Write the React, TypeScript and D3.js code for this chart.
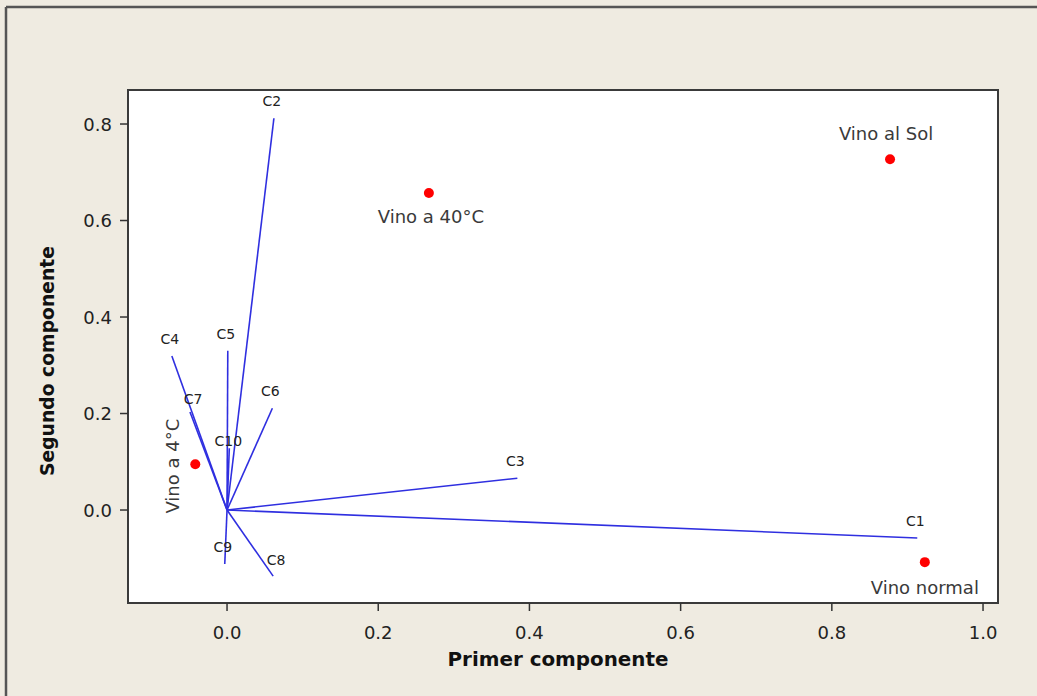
import React from "react";
import * as d3 from "d3";

// ---- data ----
const vectorNames = ["C1", "C2", "C3", "C4", "C5", "C6", "C7", "C8", "C9", "C10"];
const vectorPC1 = [0.913, 0.062, 0.384, -0.073, 0.001, 0.06, -0.049, 0.061, -0.003, 0.003];
const vectorPC2 = [-0.058, 0.812, 0.066, 0.319, 0.33, 0.211, 0.203, -0.137, -0.112, 0.128];

const sampleNames = ["Vino al Sol", "Vino a 40°C", "Vino a 4°C", "Vino normal"];
const samplePC1 = [0.877, 0.267, -0.042, 0.923];
const samplePC2 = [0.727, 0.657, 0.095, -0.108];

const xTicks = [0.0, 0.2, 0.4, 0.6, 0.8, 1.0];
const yTicks = [0.0, 0.2, 0.4, 0.6, 0.8];
const xTitle = "Primer componente";
const yTitle = "Segundo componente";

// ---- styling / layout ----
const W = 1037;
const H = 696;
const plot = { left: 128, right: 998, top: 90, bottom: 603 };
const vecLabelOffset: Record<string, [number, number]> = {
  C7: [3, -13],
  C8: [3, -16],
  C10: [-1, -7],
};
const sampleLabelStyle: Record<string, { dx: number; dy: number; rotate?: boolean }> = {
  "Vino al Sol": { dx: -4, dy: -26 },
  "Vino a 40°C": { dx: 2, dy: 23 },
  "Vino a 4°C": { dx: -23, dy: 2, rotate: true },
  "Vino normal": { dx: 0, dy: 25 },
};

export default function App() {
  const x = d3.scaleLinear().domain([-0.131, 1.0198]).range([plot.left, plot.right]);
  const y = d3.scaleLinear().domain([-0.1927, 0.8705]).range([plot.bottom, plot.top]);
  const fmt = d3.format(".1f");
  const line = d3.line<[number, number]>().x((d) => x(d[0])).y((d) => y(d[1]));
  const font = "'DejaVu Sans', Verdana, sans-serif";
  const blue = "#2f2fe0";

  return (
    <svg
      width={W}
      height={H}
      style={{ position: "absolute", left: 0, top: 0 }}
      xmlns="http://www.w3.org/2000/svg"
    >
      <rect x={0} y={0} width={W} height={H} fill="#efebe1" />
      {/* outer frame lines */}
      <line x1={6} y1={7} x2={W} y2={7} stroke="#555" strokeWidth={2.5} />
      <line x1={6} y1={7} x2={6} y2={H} stroke="#555" strokeWidth={2.5} />

      <rect
        x={plot.left}
        y={plot.top}
        width={plot.right - plot.left}
        height={plot.bottom - plot.top}
        fill="#ffffff"
        stroke="#3a3a3a"
        strokeWidth={2}
      />

      {/* x ticks */}
      {xTicks.map((t) => (
        <g key={"x" + t}>
          <line x1={x(t)} x2={x(t)} y1={plot.bottom} y2={plot.bottom + 8} stroke="#333" strokeWidth={1.5} />
          <text
            x={x(t)}
            y={plot.bottom + 29}
            textAnchor="middle"
            dominantBaseline="central"
            fontFamily={font}
            fontSize={18}
            fill="#222"
          >
            {fmt(t)}
          </text>
        </g>
      ))}
      {/* y ticks */}
      {yTicks.map((t) => (
        <g key={"y" + t}>
          <line x1={plot.left - 8} x2={plot.left} y1={y(t)} y2={y(t)} stroke="#333" strokeWidth={1.5} />
          <text
            x={plot.left - 16}
            y={y(t)}
            textAnchor="end"
            dominantBaseline="central"
            fontFamily={font}
            fontSize={18}
            fill="#222"
          >
            {fmt(t)}
          </text>
        </g>
      ))}

      {/* axis titles */}
      <text
        x={(plot.left + plot.right) / 2 - 5}
        y={659}
        textAnchor="middle"
        dominantBaseline="central"
        fontFamily={font}
        fontWeight="bold"
        fontSize={20}
        fill="#111"
        textLength={221}
        lengthAdjust="spacingAndGlyphs"
      >
        {xTitle}
      </text>
      <text
        transform={`translate(47, 361) rotate(-90)`}
        textAnchor="middle"
        dominantBaseline="central"
        fontFamily={font}
        fontWeight="bold"
        fontSize={20}
        fill="#111"
        textLength={230}
        lengthAdjust="spacingAndGlyphs"
      >
        {yTitle}
      </text>

      {/* vectors */}
      {vectorNames.map((n, i) => {
        const off = vecLabelOffset[n] || [-2, -17];
        return (
          <g key={n}>
            <path
              d={line([
                [0, 0],
                [vectorPC1[i], vectorPC2[i]],
              ]) || ""}
              stroke={blue}
              strokeWidth={1.6}
              fill="none"
            />
            <text
              x={x(vectorPC1[i]) + off[0]}
              y={y(vectorPC2[i]) + off[1]}
              textAnchor="middle"
              dominantBaseline="central"
              fontFamily={font}
              fontSize={14}
              fill="#222"
            >
              {n}
            </text>
          </g>
        );
      })}

      {/* samples */}
      {sampleNames.map((n, i) => {
        const s = sampleLabelStyle[n];
        const px = x(samplePC1[i]);
        const py = y(samplePC2[i]);
        return (
          <g key={n}>
            <circle cx={px} cy={py} r={5} fill="#ff0000" />
            <text
              transform={
                s.rotate
                  ? `translate(${px + s.dx}, ${py + s.dy}) rotate(-90)`
                  : `translate(${px + s.dx}, ${py + s.dy})`
              }
              textAnchor="middle"
              dominantBaseline="central"
              fontFamily={font}
              fontSize={18}
              fill="#3a3a3a"
            >
              {n}
            </text>
          </g>
        );
      })}
    </svg>
  );
}
